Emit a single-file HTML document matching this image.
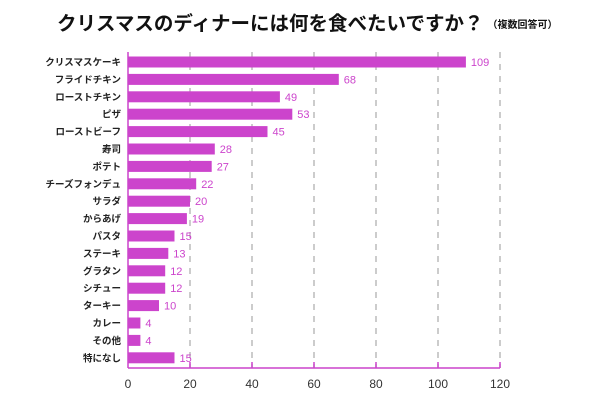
<!DOCTYPE html><html><head><meta charset="utf-8"><style>body{margin:0;background:#fff}</style></head><body>
<svg width="600" height="400" xmlns="http://www.w3.org/2000/svg" font-family="'Liberation Sans','Noto Sans CJK JP',sans-serif">
<text x="57" y="30" font-size="19.5" font-weight="bold" fill="#111">クリスマスのディナーには何を食べたいですか？<tspan font-size="10" dx="4" dy="-2">（複数回答可）</tspan></text>
<g stroke="#bbb" stroke-width="1.5" stroke-dasharray="6,6">
<line x1="190" y1="52" x2="190" y2="368"/><line x1="252" y1="52" x2="252" y2="368"/><line x1="314" y1="52" x2="314" y2="368"/><line x1="376" y1="52" x2="376" y2="368"/><line x1="438" y1="52" x2="438" y2="368"/><line x1="500" y1="52" x2="500" y2="368"/>
</g>
<g id="bars" fill="#cc44cc"></g>
<g stroke="#cc44cc" stroke-width="1.5"><line x1="128" y1="52" x2="128" y2="368"/><line x1="128" y1="368" x2="500" y2="368"/>
<line x1="190" y1="362" x2="190" y2="368"/><line x1="252" y1="362" x2="252" y2="368"/><line x1="314" y1="362" x2="314" y2="368"/><line x1="376" y1="362" x2="376" y2="368"/><line x1="438" y1="362" x2="438" y2="368"/><line x1="500" y1="362" x2="500" y2="368"/></g>
<g font-size="12" fill="#333" text-anchor="middle">
<text x="128" y="388">0</text><text x="190" y="388">20</text><text x="252" y="388">40</text><text x="314" y="388">60</text><text x="376" y="388">80</text><text x="438" y="388">100</text><text x="500" y="388">120</text></g>
<g id="labels" font-size="9.5" font-weight="bold" fill="#222" text-anchor="end"></g>
<g id="vals" font-size="11" fill="#cc44cc"></g>
<script>
var d=[["クリスマスケーキ",109],["フライドチキン",68],["ローストチキン",49],["ピザ",53],["ローストビーフ",45],["寿司",28],["ポテト",27],["チーズフォンデュ",22],["サラダ",20],["からあげ",19],["パスタ",15],["ステーキ",13],["グラタン",12],["シチュー",12],["ターキー",10],["カレー",4],["その他",4],["特になし",15]];
var ns="http://www.w3.org/2000/svg",b=document.getElementById("bars"),l=document.getElementById("labels"),v=document.getElementById("vals");
d.forEach(function(e,i){var cy=62+i*17.4,w=e[1]*3.1;
var r=document.createElementNS(ns,"rect");r.setAttribute("x",128);r.setAttribute("y",cy-5.5);r.setAttribute("width",w);r.setAttribute("height",11);b.appendChild(r);
var t=document.createElementNS(ns,"text");t.setAttribute("x",121);t.setAttribute("y",cy+3.5);t.textContent=e[0];l.appendChild(t);
var u=document.createElementNS(ns,"text");u.setAttribute("x",128+w+5);u.setAttribute("y",cy+4);u.textContent=e[1];v.appendChild(u);});
</script>
</svg></body></html>
